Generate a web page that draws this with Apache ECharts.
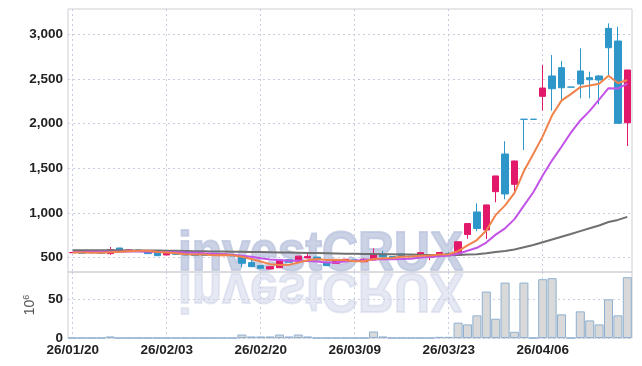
<!DOCTYPE html>
<html><head><meta charset="utf-8">
<script src="https://cdn.jsdelivr.net/npm/echarts@6/dist/echarts.min.js"></script>
<style>html,body{margin:0;padding:0;background:#fff}#c{width:642px;height:366px}</style>
</head><body><div id="c"></div>
<script>
const dates = ['26/01/20','26/01/21','26/01/22','26/01/23','26/01/26','26/01/27','26/01/28','26/01/29','26/01/30','26/02/02',
'26/02/03','26/02/04','26/02/05','26/02/06','26/02/09','26/02/10','26/02/11','26/02/12','26/02/13','26/02/19',
'26/02/20','26/02/23','26/02/24','26/02/25','26/02/26','26/02/27','26/03/03','26/03/04','26/03/05','26/03/06',
'26/03/09','26/03/10','26/03/11','26/03/12','26/03/13','26/03/16','26/03/17','26/03/18','26/03/19','26/03/20',
'26/03/23','26/03/24','26/03/25','26/03/26','26/03/27','26/03/30','26/03/31','26/04/01','26/04/02','26/04/03',
'26/04/06','26/04/07','26/04/08','26/04/09','26/04/10','26/04/13','26/04/14','26/04/15','26/04/16','26/04/17'];
const openP = [553,565,558,565,543,606,578,585,565,554,528,545,543,536,536,534,521,534,509,442,
408,371,385,474,455,494,504,446,435,459,472,452,472,536,510,540,515,528,502,530,
545,525,758,1010,808,1238,1660,1320,2050,2050,2307,2535,2628,2411,2591,2516,2535,3069,2927,2011];
const closeP = [556,547,553,547,587,581,585,578,543,520,558,535,528,521,523,524,540,517,435,397,
379,397,472,446,515,512,472,408,468,480,455,480,528,509,497,520,508,554,525,555,
538,676,880,825,1089,1414,1212,1582,2049,2049,2400,2392,2403,2410,2445,2493,2490,2852,2004,2602];
const lowP = [550,545,550,538,530,578,575,575,540,518,525,532,525,518,520,520,518,515,391,395,
376,368,383,444,452,492,470,405,432,456,452,450,470,493,495,518,505,526,470,528,
536,522,710,795,707,1119,1152,1240,1705,2049,2146,2146,2266,2410,2285,2285,2217,2527,2004,1750];
const highP = [560,567,560,566,618,608,590,588,567,556,560,548,545,538,538,536,542,536,512,472,
410,399,475,476,518,540,506,448,470,482,474,490,603,576,512,542,517,556,527,557,
560,678,882,1107,1091,1416,1803,1584,2050,2050,2658,2770,2703,2411,2845,2583,2546,3125,3087,2602];
const volume = [0,0,0,0,2,0,0,0,0,0,0,0,0,0,0,0,0,0,4.5,2,
2,2,4.5,2,4.5,2,0,0,0,0,0,0,8.5,2,0,0,0,0,0,1.5,
1.5,20,17.7,29.5,60.5,25.1,72.2,8.1,72.2,0,76.6,77.9,30.8,0,34.7,22.9,17.7,50.4,29.5,79.2];
const ma5 = [556,555,554,553,558,563,571,576,575,561,557,547,537,532,533,526,527,525,508,483,
454,425,416,418,442,468,483,471,475,468,457,458,482,490,494,507,512,518,521,532,
536,570,635,695,802,977,1084,1224,1469,1661,1858,2094,2259,2331,2410,2429,2448,2538,2457,2488];
const ma10 = [562,562,563,563,564,565,566,566,565,560,560,559,556,554,547,542,537,531,520,508,
490,476,471,463,462,461,454,443,447,455,463,471,476,483,481,482,485,500,506,513,
521,541,576,608,667,756,827,930,1082,1231,1418,1589,1742,1900,2036,2144,2271,2398,2394,2449];
const ma60 = [582,582,581,581,580,580,579,578,577,577,576,575,573,571,570,568,567,565,563,561,
560,558,556,555,553,551,549,547,545,543,542,540,539,537,536,534,532,530,529,527,
525,527,533,537,546,561,572,589,614,639,670,701,732,763,795,827,859,897,921,955];
const priceTicks = [500,1000,1500,2000,2500,3000];
const volTicks = [0,50];

const UP = '#e2196b', DOWN = '#2e96c8';
const FONT = '"Liberation Sans",Arial,sans-serif';
const grid = '#c8cde0';
const kdata = dates.map((d,i)=>[openP[i], closeP[i], lowP[i], highP[i]]);

const chart = echarts.init(document.getElementById('c'), null, {renderer:'canvas'});
const labelStyle = {color:'#222', fontFamily:FONT, fontSize:13.5, fontWeight:'bold'};
const wmFont = 'bold 56px "Liberation Sans",Arial,sans-serif';
chart.setOption({
  animation:false,
  graphic:[
    {type:'text', z:1, x:178, y:255, scaleX:0.89, silent:true,
     style:{text:'investCRUX', font:wmFont, fill:'rgba(188,197,223,0.78)', stroke:'rgba(188,197,223,0.78)', lineWidth:2, verticalAlign:'middle', align:'left'}},
    {type:'text', z:1, x:178, y:289, scaleX:0.89, scaleY:-1, silent:true,
     style:{text:'investCRUX', font:wmFont, fill:'rgba(200,207,228,0.45)', stroke:'rgba(200,207,228,0.45)', lineWidth:2, verticalAlign:'middle', align:'left'}}
  ],
  grid:[
    {left:68, right:10, top:9, height:263, show:true, borderColor:'#cfcfd6', borderWidth:1},
    {left:68, right:10, top:272, height:66, show:true, borderColor:'#cfcfd6', borderWidth:1}
  ],
  xAxis:[
    {type:'category', gridIndex:0, data:dates, boundaryGap:true,
     axisLine:{show:false}, axisTick:{show:false, interval:9, alignWithLabel:true}, axisLabel:{show:false, interval:9},
     splitLine:{show:true, interval:9, alignWithLabel:true, lineStyle:{color:grid, type:[2,3], width:1}}},
    {type:'category', gridIndex:1, data:dates, boundaryGap:true,
     axisLine:{show:false}, axisTick:{show:false, interval:9, alignWithLabel:true},
     axisLabel:Object.assign({interval:9, margin:5}, labelStyle),
     splitLine:{show:true, interval:9, alignWithLabel:true, lineStyle:{color:grid, type:[2,3], width:1}}}
  ],
  yAxis:[
    {type:'value', gridIndex:0, min:337, max:3286, scale:true,
     axisLine:{show:false}, axisTick:{show:false, customValues:priceTicks},
     axisLabel:Object.assign({customValues:priceTicks, margin:5, formatter:v=>v.toLocaleString('en-US')}, labelStyle),
     splitLine:{show:true, lineStyle:{color:grid, type:[2,3], width:1}}},
    {type:'value', gridIndex:1, min:0, max:86,
     axisLine:{show:false}, axisTick:{show:false, customValues:volTicks},
     axisLabel:Object.assign({customValues:volTicks, margin:5}, labelStyle),
     splitLine:{show:true, lineStyle:{color:grid, type:[2,3], width:1}},
     name:'10{s|6}', nameLocation:'middle', nameRotate:90, nameGap:23,
     nameTextStyle:{color:'#555', fontFamily:FONT, fontSize:14, rich:{s:{fontSize:9, color:'#555', fontFamily:FONT, padding:[0,0,7,0]}}}}
  ],
  series:[
    {type:'candlestick', xAxisIndex:0, yAxisIndex:0, data:kdata, barWidth:7, z:3,
     itemStyle:{color:UP, color0:DOWN, borderColor:UP, borderColor0:DOWN, borderWidth:1}},
    {type:'line', xAxisIndex:0, yAxisIndex:0, data:ma60, symbol:'none', z:4, lineStyle:{color:'#707070', width:2}},
    {type:'line', xAxisIndex:0, yAxisIndex:0, data:ma10, symbol:'none', z:4, lineStyle:{color:'#c453e8', width:2}},
    {type:'line', xAxisIndex:0, yAxisIndex:0, data:ma5, symbol:'none', z:4, lineStyle:{color:'#f0834c', width:2}},
    {type:'bar', xAxisIndex:1, yAxisIndex:1, data:volume, barCategoryGap:'4%', z:3,
     itemStyle:{color:'#d9d9d9', borderColor:'#8fb0d0', borderWidth:1}}
  ]
});
</script></body></html>
